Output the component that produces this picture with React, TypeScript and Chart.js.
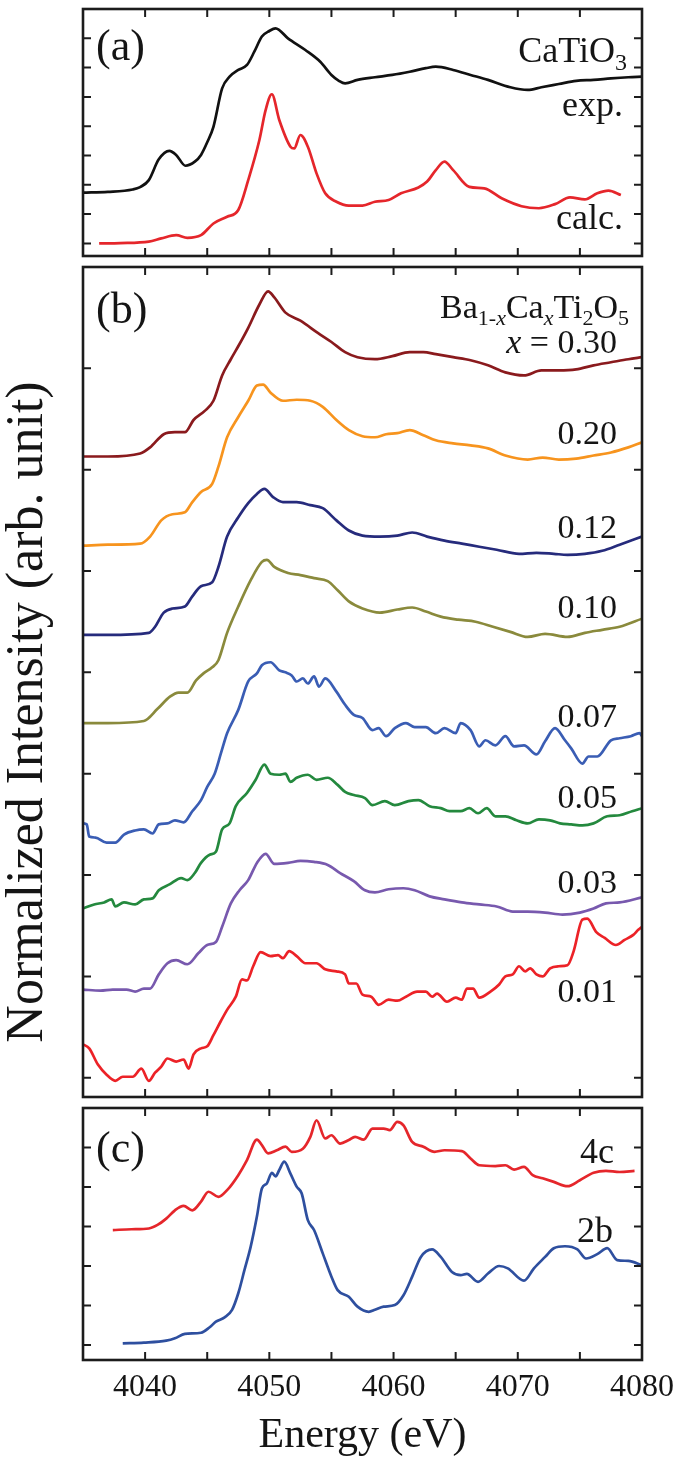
import React, { useEffect, useRef } from 'react';
import { Chart, registerables } from 'chart.js';

Chart.register(...registerables);

const SERIF = '"Liberation Serif", "Times New Roman", Times, serif';
const INK = '#151515';

// ---------- axes ----------
const energyMin = 4035;
const energyMax = 4080;
const energyTickLabels = [4040, 4050, 4060, 4070, 4080];
const energyTickMarks = [4040, 4045, 4050, 4055, 4060, 4065, 4070, 4075];
const panelATicks = [0, 1, 2, 3, 4, 5, 6, 7];
const panelBTicks = [0, 1, 2, 3, 4, 5, 6, 7];
const panelCTicks = [0, 1, 2, 3, 4, 5];

type Pt = [number, number];

// ---------- panel (a): CaTiO3 ----------
const caTiO3Exp: Pt[] = [
  [4035, 1.73], [4037, 1.76], [4039, 1.84], [4039.6, 1.92], [4040.3, 2.16], [4041.1, 2.87], [4041.95, 3.16],
  [4042.5, 3.02], [4043.25, 2.65], [4044.0, 2.79], [4044.5, 3.02], [4045.0, 3.45], [4045.5, 3.98], [4046.2, 5.29],
  [4046.8, 5.69], [4047.5, 5.92], [4048.2, 6.09], [4048.8, 6.55], [4049.4, 7.06], [4050.0, 7.25], [4050.5, 7.34],
  [4051.5, 7.0], [4052.9, 6.6], [4054.1, 6.2], [4055.0, 5.75], [4055.6, 5.55], [4056.1, 5.46], [4057.1, 5.58],
  [4058.5, 5.67], [4059.9, 5.75], [4061.3, 5.86], [4062.6, 5.98], [4063.4, 6.03], [4064.8, 5.92], [4066.2, 5.75],
  [4067.6, 5.58], [4069.4, 5.33], [4070.8, 5.24], [4071.9, 5.33], [4073.3, 5.44], [4074.7, 5.55], [4076.1, 5.58],
  [4077.5, 5.63], [4078.9, 5.67], [4080, 5.69],
];
const caTiO3Calc: Pt[] = [
  [4036.3, 0.0], [4038, 0.01], [4040.3, 0.06], [4041.3, 0.17], [4042.5, 0.28], [4043.4, 0.19], [4044.5, 0.28],
  [4045.5, 0.68], [4046.6, 0.91], [4047.5, 1.14], [4048.3, 2.16], [4049.2, 3.53], [4049.7, 4.55], [4050.2, 5.09],
  [4050.8, 4.21], [4051.7, 3.30], [4052.0, 3.24], [4052.5, 3.70], [4053.1, 3.30], [4053.8, 2.39], [4054.5, 1.71],
  [4055.4, 1.42], [4056.4, 1.29], [4057.5, 1.29], [4058.5, 1.42], [4059.6, 1.48], [4060.6, 1.71], [4062.0, 1.91],
  [4062.7, 2.11], [4063.4, 2.50], [4064.1, 2.79], [4064.8, 2.50], [4066.1, 1.93], [4067.3, 1.88], [4068.7, 1.54],
  [4070.3, 1.27], [4071.7, 1.20], [4073.0, 1.34], [4074.2, 1.57], [4075.4, 1.50], [4076.4, 1.71], [4077.3, 1.80],
  [4078.3, 1.65],
];

// ---------- panel (b): Ba1-xCaxTi2O5 ----------
const x030: Pt[] = [
  [4035, 6.13], [4037, 6.13], [4039.6, 6.16], [4040.4, 6.22], [4041.5, 6.35], [4042.4, 6.37], [4043.2, 6.37],
  [4043.9, 6.49], [4044.8, 6.58], [4045.5, 6.68], [4046.2, 6.93], [4046.9, 7.09], [4047.6, 7.24], [4048.3, 7.40],
  [4049.2, 7.63], [4049.9, 7.76], [4050.4, 7.70], [4051.3, 7.55], [4052.5, 7.47], [4053.9, 7.35], [4055.0, 7.26],
  [4056.1, 7.16], [4057.1, 7.11], [4058.5, 7.09], [4059.9, 7.12], [4061.3, 7.16], [4062.4, 7.16], [4063.4, 7.14],
  [4064.8, 7.11], [4066.2, 7.08], [4067.6, 7.03], [4069.0, 6.96], [4070.5, 6.93], [4071.9, 6.98], [4073.3, 6.98],
  [4074.7, 6.99], [4076.1, 7.03], [4077.5, 7.06], [4078.9, 7.09], [4080, 7.11],
];
const x020: Pt[] = [
  [4035, 5.25], [4037, 5.26], [4039.6, 5.27], [4040.4, 5.34], [4041.3, 5.50], [4042.2, 5.56], [4043.2, 5.58],
  [4043.8, 5.68], [4044.5, 5.78], [4045.4, 5.86], [4045.9, 6.03], [4046.6, 6.32], [4047.5, 6.52], [4048.3, 6.68],
  [4049.0, 6.83], [4049.5, 6.84], [4050.1, 6.76], [4051.1, 6.68], [4052.2, 6.69], [4053.3, 6.68], [4054.3, 6.62],
  [4055.4, 6.49], [4056.4, 6.39], [4057.5, 6.33], [4058.5, 6.32], [4059.4, 6.35], [4060.3, 6.36], [4061.3, 6.39],
  [4062.4, 6.34], [4063.4, 6.29], [4064.8, 6.26], [4066.2, 6.24], [4067.6, 6.21], [4069.0, 6.14], [4070.8, 6.10],
  [4072.0, 6.12], [4073.3, 6.10], [4074.7, 6.11], [4076.1, 6.14], [4077.5, 6.17], [4078.9, 6.22], [4080, 6.27],
];
const x012: Pt[] = [
  [4035, 4.37], [4037, 4.37], [4040.3, 4.39], [4040.8, 4.45], [4041.5, 4.59], [4042.2, 4.63], [4043.2, 4.65],
  [4043.8, 4.75], [4044.5, 4.85], [4045.4, 4.89], [4045.9, 5.04], [4046.6, 5.34], [4047.5, 5.53], [4048.3, 5.67],
  [4049.0, 5.76], [4049.6, 5.81], [4050.3, 5.73], [4051.1, 5.68], [4052.2, 5.68], [4053.3, 5.65], [4054.3, 5.62],
  [4055.4, 5.50], [4056.4, 5.40], [4057.5, 5.35], [4058.9, 5.34], [4060.3, 5.35], [4061.5, 5.38], [4062.7, 5.34],
  [4064.1, 5.30], [4065.5, 5.27], [4066.9, 5.24], [4068.3, 5.21], [4070.1, 5.17], [4071.5, 5.18], [4072.9, 5.17],
  [4074.0, 5.16], [4075.4, 5.17], [4076.8, 5.20], [4078.2, 5.26], [4080, 5.34],
];
const x010: Pt[] = [
  [4035, 3.50], [4037, 3.50], [4039.9, 3.52], [4041.0, 3.64], [4042.0, 3.76], [4042.7, 3.80], [4043.4, 3.80],
  [4044.1, 3.92], [4044.7, 3.99], [4045.4, 4.05], [4045.9, 4.12], [4046.6, 4.39], [4047.5, 4.65], [4048.5, 4.91],
  [4049.4, 5.09], [4049.8, 5.11], [4050.4, 5.04], [4051.5, 4.98], [4052.5, 4.96], [4053.6, 4.93], [4054.7, 4.90],
  [4055.5, 4.81], [4056.4, 4.70], [4057.5, 4.63], [4058.9, 4.59], [4060.3, 4.62], [4061.5, 4.64], [4062.6, 4.60],
  [4063.8, 4.55], [4065.2, 4.52], [4066.6, 4.50], [4068.0, 4.45], [4069.4, 4.40], [4070.8, 4.35], [4072.2, 4.38],
  [4074.0, 4.35], [4075.4, 4.39], [4076.8, 4.42], [4078.2, 4.45], [4080, 4.53],
];
const x007: Pt[] = [
  [4035, 2.51], [4035.3, 2.50], [4035.5, 2.38], [4036.0, 2.37], [4036.9, 2.32], [4037.6, 2.32], [4038.3, 2.40],
  [4039.2, 2.44], [4039.9, 2.45], [4040.6, 2.41], [4041.1, 2.50], [4041.8, 2.51], [4042.4, 2.54], [4043.1, 2.52],
  [4043.8, 2.63], [4044.5, 2.74], [4045.0, 2.87], [4045.6, 3.00], [4046.1, 3.20], [4046.6, 3.40], [4047.5, 3.63],
  [4048.3, 3.91], [4049.0, 3.99], [4049.4, 4.07], [4050.1, 4.10], [4050.8, 4.02], [4051.3, 4.00], [4051.8, 3.97],
  [4052.2, 3.91], [4052.7, 3.94], [4053.1, 3.89], [4053.6, 3.96], [4054.0, 3.86], [4054.5, 3.94], [4055.4, 3.81],
  [4056.1, 3.68], [4056.8, 3.58], [4057.5, 3.55], [4058.3, 3.43], [4058.8, 3.45], [4059.4, 3.37], [4060.1, 3.45],
  [4061.0, 3.50], [4061.7, 3.46], [4062.6, 3.46], [4063.4, 3.40], [4064.1, 3.45], [4065.0, 3.40], [4065.4, 3.50],
  [4066.2, 3.43], [4066.9, 3.27], [4067.4, 3.33], [4068.2, 3.28], [4069.0, 3.37], [4069.7, 3.27], [4070.5, 3.28],
  [4071.5, 3.19], [4072.2, 3.32], [4073.0, 3.45], [4073.8, 3.33], [4074.3, 3.25], [4075.2, 3.10], [4075.7, 3.17],
  [4076.4, 3.17], [4077.5, 3.33], [4078.2, 3.35], [4079.1, 3.37], [4079.8, 3.40], [4080, 3.37],
];
const x005: Pt[] = [
  [4035, 1.67], [4035.9, 1.71], [4036.7, 1.73], [4037.3, 1.76], [4037.6, 1.69], [4038.3, 1.73], [4039.2, 1.71],
  [4039.9, 1.76], [4040.6, 1.77], [4041.1, 1.85], [4042.0, 1.91], [4042.9, 1.97], [4043.4, 1.95], [4044.0, 2.02],
  [4044.5, 2.12], [4045.2, 2.20], [4045.7, 2.23], [4046.2, 2.45], [4046.8, 2.51], [4047.3, 2.68], [4048.2, 2.81],
  [4048.9, 2.94], [4049.6, 3.09], [4050.1, 3.00], [4050.8, 2.99], [4051.3, 3.00], [4051.7, 2.92], [4052.2, 2.96],
  [4053.1, 2.99], [4053.8, 2.94], [4054.7, 2.96], [4055.5, 2.89], [4056.1, 2.82], [4056.8, 2.79], [4057.7, 2.76],
  [4058.3, 2.69], [4059.3, 2.73], [4060.1, 2.69], [4061.2, 2.73], [4062.0, 2.74], [4062.9, 2.68], [4063.8, 2.66],
  [4064.5, 2.63], [4065.4, 2.63], [4066.1, 2.66], [4066.8, 2.61], [4067.5, 2.66], [4068.2, 2.58], [4069.0, 2.58],
  [4069.9, 2.54], [4070.8, 2.51], [4071.7, 2.55], [4072.6, 2.54], [4073.4, 2.51], [4074.3, 2.50], [4075.2, 2.49],
  [4076.1, 2.51], [4077.2, 2.58], [4078.2, 2.59], [4079.2, 2.63], [4080, 2.66],
];
const x003: Pt[] = [
  [4035, 0.87], [4036.4, 0.86], [4037.4, 0.87], [4038.5, 0.87], [4039.2, 0.85], [4039.9, 0.88], [4040.4, 0.88],
  [4041.1, 1.02], [4041.8, 1.13], [4042.5, 1.16], [4043.4, 1.12], [4044.3, 1.23], [4045.0, 1.31], [4045.7, 1.34],
  [4046.2, 1.49], [4046.9, 1.72], [4047.6, 1.85], [4048.3, 1.95], [4049.0, 2.12], [4049.7, 2.21], [4050.4, 2.11],
  [4051.5, 2.12], [4052.5, 2.14], [4053.6, 2.13], [4054.7, 2.10], [4055.7, 2.02], [4056.8, 1.94], [4057.7, 1.85],
  [4058.5, 1.83], [4059.6, 1.86], [4060.8, 1.87], [4061.7, 1.85], [4062.9, 1.79], [4064.1, 1.76], [4065.5, 1.73],
  [4066.9, 1.71], [4068.3, 1.69], [4069.6, 1.64], [4070.8, 1.64], [4072.2, 1.63], [4073.6, 1.61], [4075.0, 1.63],
  [4076.1, 1.67], [4077.1, 1.72], [4078.2, 1.73], [4080, 1.78],
];
const x001: Pt[] = [
  [4035, 0.33], [4035.5, 0.29], [4036.2, 0.13], [4036.9, 0.03], [4037.6, -0.03], [4038.2, 0.01], [4039.0, 0.01],
  [4039.7, 0.09], [4040.3, -0.03], [4040.8, 0.05], [4041.3, 0.11], [4041.8, 0.19], [4042.5, 0.16], [4043.1, 0.18],
  [4043.5, 0.09], [4043.9, 0.23], [4044.5, 0.29], [4045.0, 0.31], [4045.5, 0.42], [4046.1, 0.56], [4046.6, 0.67],
  [4047.3, 0.80], [4047.8, 0.97], [4048.2, 0.96], [4048.7, 1.10], [4049.3, 1.24], [4050.1, 1.20], [4050.7, 1.21],
  [4051.1, 1.18], [4051.6, 1.25], [4052.2, 1.20], [4052.9, 1.13], [4053.8, 1.13], [4054.5, 1.07], [4055.4, 1.05],
  [4056.1, 1.02], [4056.4, 0.93], [4057.0, 0.93], [4057.5, 0.82], [4058.2, 0.80], [4058.8, 0.72], [4059.6, 0.77],
  [4060.3, 0.76], [4061.0, 0.80], [4061.9, 0.85], [4062.6, 0.85], [4063.1, 0.80], [4063.5, 0.83], [4064.3, 0.75],
  [4065.0, 0.79], [4065.5, 0.77], [4065.9, 0.88], [4066.4, 0.88], [4066.9, 0.79], [4067.8, 0.85], [4068.5, 0.92],
  [4069.0, 1.00], [4069.6, 1.02], [4070.1, 1.10], [4070.6, 1.05], [4071.0, 1.08], [4071.5, 1.02], [4072.0, 1.00],
  [4072.6, 1.08], [4073.3, 1.10], [4074.0, 1.11], [4074.5, 1.25], [4075.2, 1.56], [4075.6, 1.57], [4076.3, 1.44],
  [4077.0, 1.38], [4077.9, 1.31], [4078.6, 1.36], [4079.3, 1.41], [4079.7, 1.46], [4080, 1.49],
];

// ---------- panel (c): calculated sites ----------
const site4c: Pt[] = [
  [4037.4, 2.91], [4038.9, 2.93], [4040.3, 2.95], [4041.0, 3.04], [4041.7, 3.20], [4042.4, 3.41], [4043.1, 3.52],
  [4043.8, 3.41], [4044.5, 3.63], [4045.1, 3.88], [4045.9, 3.75], [4046.6, 3.92], [4047.5, 4.30], [4048.2, 4.68],
  [4049.0, 5.20], [4049.4, 5.06], [4049.9, 4.85], [4050.6, 4.93], [4051.3, 5.02], [4051.8, 4.89], [4052.7, 4.97],
  [4053.3, 5.27], [4053.8, 5.69], [4054.5, 5.23], [4055.0, 5.31], [4055.7, 5.10], [4056.4, 5.19], [4056.9, 5.27],
  [4057.6, 5.20], [4058.3, 5.48], [4059.2, 5.48], [4059.7, 5.44], [4060.3, 5.65], [4060.8, 5.56], [4061.5, 5.14],
  [4062.4, 5.02], [4063.3, 4.89], [4064.1, 4.93], [4065.5, 4.91], [4066.2, 4.72], [4066.9, 4.55], [4068.2, 4.53],
  [4069.0, 4.55], [4069.7, 4.44], [4070.5, 4.51], [4071.2, 4.30], [4072.0, 4.22], [4072.9, 4.13], [4074.0, 4.02],
  [4075.0, 4.17], [4076.1, 4.36], [4077.1, 4.41], [4078.2, 4.38], [4079.4, 4.41],
];
const site2b: Pt[] = [
  [4038.2, 0.04], [4039.9, 0.06], [4041.7, 0.11], [4042.4, 0.17], [4043.2, 0.28], [4044.5, 0.31], [4045.2, 0.45],
  [4045.7, 0.59], [4046.4, 0.70], [4047.0, 0.89], [4047.5, 1.31], [4048.0, 1.90], [4048.5, 2.49], [4049.0, 3.25],
  [4049.4, 3.96], [4049.8, 4.09], [4050.2, 4.36], [4050.5, 4.27], [4050.8, 4.43], [4051.2, 4.64], [4051.7, 4.34],
  [4052.2, 4.01], [4052.6, 3.84], [4053.1, 3.16], [4053.6, 2.91], [4054.3, 2.32], [4055.0, 1.73], [4055.5, 1.39],
  [4056.4, 1.22], [4057.1, 0.97], [4058.0, 0.84], [4058.5, 0.89], [4059.2, 0.97], [4060.1, 1.01], [4060.8, 1.26],
  [4061.5, 1.73], [4062.2, 2.23], [4063.1, 2.42], [4063.8, 2.23], [4064.7, 1.85], [4065.4, 1.77], [4065.9, 1.80],
  [4066.8, 1.60], [4067.6, 1.81], [4068.5, 2.00], [4069.2, 1.94], [4070.5, 1.63], [4071.3, 1.94], [4072.2, 2.23],
  [4072.9, 2.45], [4073.8, 2.50], [4074.8, 2.42], [4075.5, 2.19], [4076.4, 2.30], [4077.2, 2.45], [4078.0, 2.15],
  [4078.9, 2.13], [4080, 2.02],
];

// ---------- layout ----------
const PAGE_W = 685;
const PLOT_LEFT = 83;
const PLOT_RIGHT = 642;

interface TextPart { t: string; size: number; italic?: boolean; dy?: number }
interface Label { parts: TextPart[]; x: number; y: number; align: 'left' | 'right' }
interface Series { points: Pt[]; color: string }
interface Panel {
  top: number; height: number; plotTop: number; plotBottom: number;
  yMin: number; yMax: number; yTickMarks: number[];
  series: Series[]; labels: Label[]; energyAxis?: boolean; yTitle?: boolean;
}

const big = (t: string): TextPart => ({ t, size: 44 });
const txt = (t: string, size = 34): TextPart => ({ t, size });

const panelA: Panel = {
  top: 0, height: 263, plotTop: 9, plotBottom: 256, yMin: -0.43, yMax: 8, yTickMarks: panelATicks,
  series: [
    { points: caTiO3Exp, color: '#111111' },
    { points: caTiO3Calc, color: '#e5262b' },
  ],
  labels: [
    { parts: [big('(a)')], x: 96, y: 60, align: 'left' },
    { parts: [txt('CaTiO', 36), { t: '3', size: 24, dy: 8 }], x: 627, y: 62, align: 'right' },
    { parts: [txt('exp.', 36)], x: 623, y: 116, align: 'right' },
    { parts: [txt('calc.', 36)], x: 623, y: 229, align: 'right' },
  ],
};

const panelB: Panel = {
  top: 259, height: 846, plotTop: 267, plotBottom: 1097, yMin: -0.19, yMax: 8, yTickMarks: panelBTicks,
  series: [
    { points: x030, color: '#8a1a1d' },
    { points: x020, color: '#f7941e' },
    { points: x012, color: '#262b7c' },
    { points: x010, color: '#8a8a3c' },
    { points: x007, color: '#3a5db4' },
    { points: x005, color: '#24893e' },
    { points: x003, color: '#7859ae' },
    { points: x001, color: '#ec2227' },
  ],
  labels: [
    { parts: [big('(b)')], x: 96, y: 323, align: 'left' },
    {
      parts: [
        txt('Ba'), { t: '1-', size: 22, dy: 7 }, { t: 'x', size: 22, dy: 7, italic: true },
        txt('Ca'), { t: 'x', size: 22, dy: 7, italic: true },
        txt('Ti'), { t: '2', size: 22, dy: 7 }, txt('O'), { t: '5', size: 22, dy: 7 },
      ],
      x: 629, y: 318, align: 'right',
    },
    { parts: [{ t: 'x', size: 34, italic: true }, txt(' = 0.30')], x: 617, y: 353, align: 'right' },
    { parts: [txt('0.20')], x: 617, y: 444, align: 'right' },
    { parts: [txt('0.12')], x: 617, y: 538, align: 'right' },
    { parts: [txt('0.10')], x: 617, y: 618, align: 'right' },
    { parts: [txt('0.07')], x: 617, y: 727, align: 'right' },
    { parts: [txt('0.05')], x: 617, y: 808, align: 'right' },
    { parts: [txt('0.03')], x: 617, y: 893, align: 'right' },
    { parts: [txt('0.01')], x: 617, y: 1002, align: 'right' },
  ],
  yTitle: true,
};

const panelC: Panel = {
  top: 1100, height: 367, plotTop: 1108, plotBottom: 1360, yMin: -0.38, yMax: 6, yTickMarks: panelCTicks,
  series: [
    { points: site4c, color: '#e5262b' },
    { points: site2b, color: '#2e4f9f' },
  ],
  labels: [
    { parts: [big('(c)')], x: 96, y: 1162, align: 'left' },
    { parts: [txt('4c', 36)], x: 614, y: 1163, align: 'right' },
    { parts: [txt('2b', 36)], x: 613, y: 1242, align: 'right' },
  ],
  energyAxis: true,
};

const fontFor = (p: TextPart) => `${p.italic ? 'italic ' : ''}${p.size}px ${SERIF}`;

function makePlugins(panel: Panel) {
  const frame = {
    id: 'frameTicks',
    afterDatasetsDraw(chart: any) {
      const { ctx, chartArea: a, scales } = chart;
      const L = 8;
      ctx.save();
      ctx.strokeStyle = '#1c1c1c';
      ctx.lineWidth = 2;
      ctx.beginPath();
      for (const v of energyTickMarks) {
        const px = scales.x.getPixelForValue(v);
        ctx.moveTo(px, a.top); ctx.lineTo(px, a.top + L);
        ctx.moveTo(px, a.bottom); ctx.lineTo(px, a.bottom - L);
      }
      for (const v of panel.yTickMarks) {
        const py = scales.y.getPixelForValue(v);
        ctx.moveTo(a.left, py); ctx.lineTo(a.left + L, py);
        ctx.moveTo(a.right, py); ctx.lineTo(a.right - L, py);
      }
      ctx.stroke();
      ctx.lineWidth = 2.6;
      ctx.strokeRect(a.left, a.top, a.right - a.left, a.bottom - a.top);
      ctx.restore();
    },
  };
  const labels = {
    id: 'panelLabels',
    afterDraw(chart: any) {
      const { ctx } = chart;
      ctx.save();
      ctx.fillStyle = INK;
      ctx.textBaseline = 'alphabetic';
      ctx.textAlign = 'left';
      for (const lab of panel.labels) {
        const widths = lab.parts.map((p) => { ctx.font = fontFor(p); return ctx.measureText(p.t).width; });
        const total = widths.reduce((s, w) => s + w, 0);
        let x = lab.align === 'right' ? lab.x - total : lab.x;
        lab.parts.forEach((p, i) => {
          ctx.font = fontFor(p);
          ctx.fillText(p.t, x, lab.y - panel.top + (p.dy || 0));
          x += widths[i];
        });
      }
      if (panel.yTitle) {
        ctx.translate(42, 712 - panel.top);
        ctx.rotate(-Math.PI / 2);
        ctx.textAlign = 'center';
        ctx.font = `52px ${SERIF}`;
        ctx.fillText('Normalized Intensity (arb. unit)', 0, 0);
      }
      ctx.restore();
    },
  };
  return [frame, labels];
}

function buildConfig(panel: Panel): any {
  const axisHeight = panel.top + panel.height - panel.plotBottom;
  return {
    type: 'line',
    data: {
      datasets: panel.series.map((s) => ({
        data: s.points.map(([x, y]) => ({ x, y })),
        borderColor: s.color,
        borderWidth: 2.7,
        pointRadius: 0,
        fill: false,
        cubicInterpolationMode: 'monotone',
      })),
    },
    options: {
      animation: false,
      responsive: false,
      devicePixelRatio: 1,
      layout: {
        padding: {
          left: PLOT_LEFT,
          right: PAGE_W - PLOT_RIGHT,
          top: panel.plotTop - panel.top,
          bottom: panel.energyAxis ? 0 : panel.top + panel.height - panel.plotBottom,
        },
      },
      plugins: { legend: { display: false }, tooltip: { enabled: false } },
      scales: {
        x: {
          type: 'linear',
          min: energyMin,
          max: energyMax,
          display: !!panel.energyAxis,
          grid: { display: false, drawTicks: false },
          border: { display: false },
          afterBuildTicks: (s: any) => { s.ticks = energyTickLabels.map((v) => ({ value: v })); },
          afterFit: (s: any) => { if (panel.energyAxis) s.height = axisHeight; },
          ticks: {
            font: { family: SERIF, size: 32 },
            color: INK,
            padding: 8,
            maxRotation: 0,
            autoSkip: false,
            callback: (v: any) => String(v),
          },
          title: {
            display: true,
            text: 'Energy (eV)',
            font: { family: SERIF, size: 42 },
            color: INK,
            padding: { top: 0, bottom: 6 },
          },
        },
        y: { type: 'linear', min: panel.yMin, max: panel.yMax, display: false },
      },
    },
    plugins: makePlugins(panel),
  };
}

function PanelCanvas({ panel }: { panel: Panel }) {
  const ref = useRef<HTMLCanvasElement>(null);
  useEffect(() => {
    const canvas = ref.current;
    if (!canvas) return;
    const chart = new Chart(canvas, buildConfig(panel));
    return () => chart.destroy();
  }, [panel]);
  return (
    <canvas
      ref={ref}
      width={PAGE_W}
      height={panel.height}
      style={{ position: 'absolute', left: 0, top: panel.top, width: PAGE_W, height: panel.height }}
    />
  );
}

export default function App() {
  return (
    <div style={{ position: 'absolute', left: 0, top: 0, width: PAGE_W, height: 1467, background: '#fff', overflow: 'hidden' }}>
      <PanelCanvas panel={panelA} />
      <PanelCanvas panel={panelB} />
      <PanelCanvas panel={panelC} />
    </div>
  );
}
